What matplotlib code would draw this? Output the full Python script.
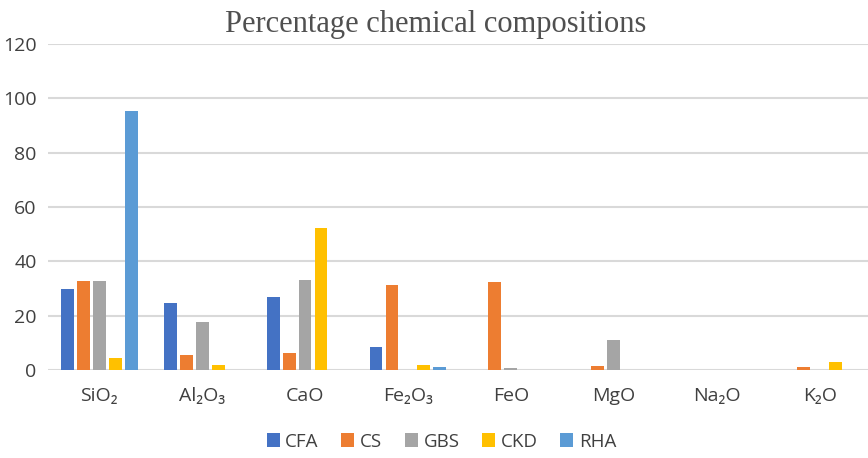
import numpy as np
import matplotlib.pyplot as plt

# oxide categories and percentages per material
oxides = ["SiO₂", "Al₂O₃", "CaO", "Fe₂O₃", "FeO", "MgO", "Na₂O", "K₂O"]
materials = ["CFA", "CS", "GBS", "CKD", "RHA"]
cfa = [29.8, 24.6, 26.8, 8.5, 0, 0, 0, 0]
cs = [32.8, 5.6, 6.2, 31.3, 32.3, 1.5, 0, 1.2]
gbs = [32.8, 17.6, 33.0, 0, 0.6, 11.0, 0, 0]
ckd = [4.4, 1.8, 52.2, 1.8, 0, 0, 0, 3.0]
rha = [95.3, 0, 0, 1.1, 0, 0, 0, 0]
values = [cfa, cs, gbs, ckd, rha]
colors = ["#4472C4", "#ED7D31", "#A5A5A5", "#FFC000", "#5B9BD5"]

plt.rcParams["font.family"] = ["Open Sans", "DejaVu Sans"]

fig = plt.figure(figsize=(8.68, 4.58), dpi=100)
ax = fig.add_axes([0.055, 0.192, 0.945, 0.712])

x = np.arange(len(oxides))
step = 0.155
for k, (name, vals, c) in enumerate(zip(materials, values, colors)):
    ax.bar(x + (k - 2) * step, vals, width=0.125, color=c, label=name, zorder=3)

ax.set_xlim(-0.5, 7.47)
ax.set_ylim(0, 120)
ax.set_yticks(range(0, 121, 20))
ax.set_xticks(x)
ax.set_xticklabels(oxides)
ax.tick_params(length=0, labelsize=14, colors="#404040")
ax.tick_params(axis="x", pad=12)
ax.tick_params(axis="y", pad=8)
ax.grid(axis="y", color="#d9d9d9", linewidth=1.5, zorder=0)
for s in ax.spines.values():
    s.set_visible(False)

fig.suptitle("Percentage chemical compositions", x=0.502, y=0.978,
             fontsize=22, family="Liberation Serif", color="#505050")

ax.legend(loc="upper center", bbox_to_anchor=(0.48, -0.14), ncol=5,
          frameon=False, fontsize=13.5, handlelength=0.7, handleheight=0.7,
          columnspacing=1.2, handletextpad=0.3, labelcolor="#404040")

fig.savefig("out.png", dpi=100)
